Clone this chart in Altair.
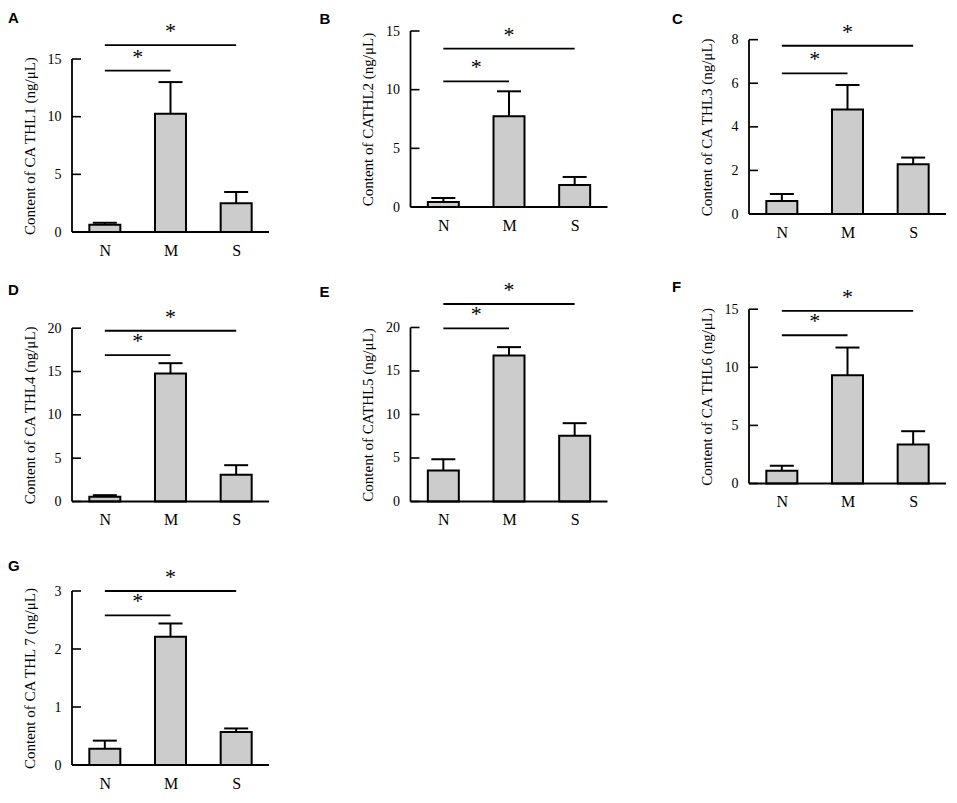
import altair as alt
import pandas as pd

# ---------------- data ----------------
categories = ["N", "M", "S"]
letters = ["A", "B", "C", "D", "E", "F", "G"]
y_titles = [
    "Content of CA THL1 (ng/μL)",
    "Content of CATHL2 (ng/μL)",
    "Content of CA THL3 (ng/μL)",
    "Content of CA THL4 (ng/μL)",
    "Content of CATHL5 (ng/μL)",
    "Content of CA THL6 (ng/μL)",
    "Content of CA THL 7 (ng/μL)",
]

mean_A = [0.63, 10.26, 2.50]
err_A = [0.17, 2.74, 0.97]
ticks_A = [0, 5, 10, 15]
sig_A = [14.0, 16.2]

mean_B = [0.43, 7.73, 1.88]
err_B = [0.34, 2.13, 0.68]
ticks_B = [0, 5, 10, 15]
sig_B = [10.7, 13.5]

mean_C = [0.60, 4.79, 2.28]
err_C = [0.32, 1.13, 0.31]
ticks_C = [0, 2, 4, 6, 8]
sig_C = [6.45, 7.72]

mean_D = [0.54, 14.77, 3.08]
err_D = [0.19, 1.19, 1.11]
ticks_D = [0, 5, 10, 15, 20]
sig_D = [16.9, 19.7]

mean_E = [3.56, 16.78, 7.55]
err_E = [1.30, 0.96, 1.45]
ticks_E = [0, 5, 10, 15, 20]
sig_E = [19.9, 22.7]

mean_F = [1.09, 9.32, 3.36]
err_F = [0.43, 2.38, 1.14]
ticks_F = [0, 5, 10, 15]
sig_F = [12.76, 14.86]

mean_G = [0.28, 2.21, 0.57]
err_G = [0.14, 0.23, 0.06]
ticks_G = [0, 1, 2, 3]
sig_G = [2.58, 3.0]

sig_pairs = [("N", "M"), ("N", "S")]
sig_label = "*"

# ---------------- layout / style ----------------
SERIF = "Liberation Serif"
SANS = "Liberation Sans"
W = 197
XDOM = [-0.5, 2.5]
BAR_FILL = "#cccccc"
TICK_LEN = 9

layout = {
    "A": dict(ydom=[0, 17.43], h=201, dx=-64, toff=-5.5),
    "B": dict(ydom=[-2.13, 15.0], h=201, dx=-91, toff=-3.5),
    "C": dict(ydom=[-0.826, 8.398], h=201, dx=-77, toff=-6.0),
    "D": dict(ydom=[-1.42, 22.27], h=205.3, dx=-64, toff=8.2),
    "E": dict(ydom=[-1.414, 22.18], h=205.3, dx=-91, toff=-21),
    "F": dict(ydom=[-2.608, 15.06], h=205.3, dx=-77, toff=-9),
    "G": dict(ydom=[0, 3.0], h=174, dx=-64, toff=-7.6),
}

panel_data = {
    "A": (mean_A, err_A, ticks_A, sig_A),
    "B": (mean_B, err_B, ticks_B, sig_B),
    "C": (mean_C, err_C, ticks_C, sig_C),
    "D": (mean_D, err_D, ticks_D, sig_D),
    "E": (mean_E, err_E, ticks_E, sig_E),
    "F": (mean_F, err_F, ticks_F, sig_F),
    "G": (mean_G, err_G, ticks_G, sig_G),
}


def make_panel(letter, ytitle):
    mean, err, ticks, sig = panel_data[letter]
    lay = layout[letter]
    n = len(categories)
    df = pd.DataFrame({
        "xi": list(range(n)),
        "cat": categories,
        "mean": mean,
        "upper": [m + e for m, e in zip(mean, err)],
    })
    x0 = [categories.index(a) for a, b in sig_pairs]
    x1 = [categories.index(b) for a, b in sig_pairs]
    sig_df = pd.DataFrame({
        "x0": x0, "x1": x1,
        "xm": [(a + b) / 2 for a, b in zip(x0, x1)],
        "yl": sig,
    })
    axis_df = pd.DataFrame({"x0": [XDOM[0]], "x1": [XDOM[1]],
                            "y0": [0], "y1": [max(ticks)]})
    tick_df = pd.DataFrame({"x0": [XDOM[0]] * len(ticks), "tv": ticks})

    ydom = lay["ydom"]
    H = lay["h"]
    span = ydom[1] - ydom[0]
    zero_px = H * ydom[1] / span
    top_px = H * (ydom[1] - max(ticks)) / span
    x_off = -(H - zero_px)

    xs = alt.Scale(domain=XDOM, padding=0, nice=False, zero=False)
    ys = alt.Scale(domain=ydom, padding=0, nice=False, zero=False)

    label_expr = "[" + ",".join("'%s'" % c for c in categories) + "][datum.value]"
    x_axis = alt.Axis(values=list(range(n)), labelExpr=label_expr, ticks=False,
                      tickSize=0, domain=False, grid=False, title=None,
                      labelFontSize=16, labelPadding=10, offset=x_off,
                      labelAngle=0, labelFlush=False)
    y_axis = alt.Axis(values=ticks, domain=False, grid=False, ticks=False,
                      tickSize=0, labelPadding=11, labelFontSize=14,
                      labelFlush=False, format="d", title=ytitle,
                      titleFontSize=15, titleX=-35,
                      titleY=(top_px + zero_px) / 2, titleAngle=270,
                      titleBaseline="bottom", titleAlign="center")

    def X(f):
        return alt.X(f, scale=xs, axis=x_axis)

    def Y(f):
        return alt.Y(f, scale=ys, axis=y_axis)

    base = alt.Chart(df)
    bars = base.mark_bar(size=31, color=BAR_FILL, stroke="black",
                         strokeWidth=2).encode(
        x=X("xi:Q"), y=Y("mean:Q"), y2=alt.datum(0),
    )
    errs = base.mark_rule(color="black", strokeWidth=2).encode(
        x=X("xi:Q"), y=Y("mean:Q"), y2="upper:Q",
    )
    caps = base.mark_tick(orient="horizontal", size=24, thickness=2,
                          color="black", opacity=1).encode(
        x=X("xi:Q"), y=Y("upper:Q"),
    )
    ax = alt.Chart(axis_df)
    xline = ax.mark_rule(color="black", strokeWidth=1.8).encode(
        x=X("x0:Q"), x2="x1:Q", y=Y("y0:Q"),
    )
    yline = ax.mark_rule(color="black", strokeWidth=1.8).encode(
        x=X("x0:Q"), y=Y("y0:Q"), y2="y1:Q",
    )
    yticks = alt.Chart(tick_df).mark_tick(
        orient="horizontal", size=TICK_LEN, thickness=1.6, color="black",
        opacity=1, xOffset=TICK_LEN / 2).encode(
        x=X("x0:Q"), y=Y("tv:Q"),
    )
    sg = alt.Chart(sig_df)
    lines = sg.mark_rule(color="black", strokeWidth=1.8).encode(
        x=X("x0:Q"), x2="x1:Q", y=Y("yl:Q"),
    )
    stars = sg.mark_text(text=sig_label, fontSize=22, font=SERIF,
                         baseline="alphabetic", dy=-7, color="black").encode(
        x=X("xm:Q"), y=Y("yl:Q"),
    )
    return alt.layer(bars, errs, caps, xline, yline, yticks, lines, stars).properties(
        width=W, height=H,
        title=alt.TitleParams(text=letter, anchor="start", frame="group",
                              dx=lay["dx"], offset=lay["toff"], fontSize=15,
                              font=SANS, fontWeight="bold", color="black"),
    )


panels = [make_panel(l, t) for l, t in zip(letters, y_titles)]

chart = alt.concat(
    *panels, columns=3, bounds="flush", align="each",
    spacing=alt.RowColnumber(row=76.5, column=141.5),
).properties(
    padding={"top": 2, "left": 0, "right": 0, "bottom": 0}
).configure_view(stroke=None).configure_axis(
    labelFont=SERIF, titleFont=SERIF, labelColor="black", titleColor="black",
    titleFontWeight="normal",
)

chart.save("out.html", embed_options={"renderer": "svg", "actions": False})
